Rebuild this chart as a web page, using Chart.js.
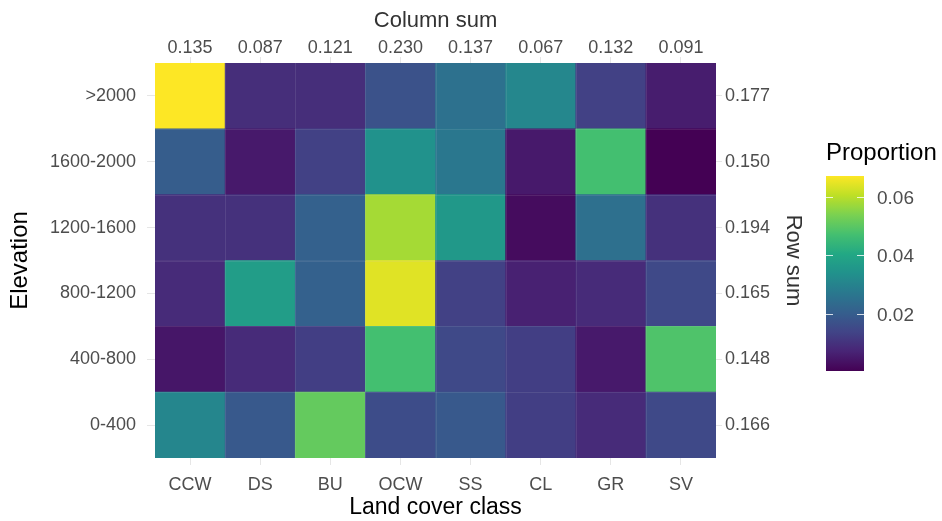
<!DOCTYPE html>
<html><head><meta charset="utf-8">
<script src="https://cdn.jsdelivr.net/npm/chart.js@4/dist/chart.umd.min.js"></script>
<style>html,body{margin:0;padding:0;background:#fff}canvas{display:block}</style>
</head><body>
<canvas id="c" width="942" height="521"></canvas>
<script>
// ---- data ----
const landCover = ['CCW','DS','BU','OCW','SS','CL','GR','SV'];
const elevation = ['0-400','400-800','800-1200','1200-1600','1600-2000','>2000']; // bottom -> top
const columnSums = ['0.135','0.087','0.121','0.230','0.137','0.067','0.132','0.091'];
const rowSums = ['0.166','0.148','0.165','0.194','0.150','0.177']; // bottom -> top
const row0_400    = [0.031, 0.019, 0.051, 0.016, 0.019, 0.0127, 0.0087, 0.0153];
const row400_800  = [0.0047, 0.0087, 0.0127, 0.047, 0.0153, 0.0127, 0.0053, 0.0485];
const row800_1200 = [0.0087, 0.0372, 0.021, 0.064, 0.0133, 0.0067, 0.0087, 0.0153];
const row1200_1600= [0.010, 0.010, 0.021, 0.058, 0.036, 0.0027, 0.025, 0.010];
const row1600_2000= [0.020, 0.0053, 0.0133, 0.034, 0.027, 0.0053, 0.047, 0.0007];
const row2000     = [0.067, 0.0093, 0.0093, 0.0173, 0.0253, 0.0312, 0.0133, 0.006];
const legendTicks = [0.02, 0.04, 0.06];

const rows = [row0_400, row400_800, row800_1200, row1200_1600, row1600_2000, row2000];
const allVals = rows.flat();
const vmin = Math.min(...allVals), vmax = Math.max(...allVals);

// viridis
const VIR = ['#440154','#482475','#414487','#355f8d','#2a788e','#21918c','#22a884','#44bf70','#7ad151','#bddf26','#fde725'];
function hex(h){return [1,3,5].map(i=>parseInt(h.substr(i,2),16));}
function viridis(t){
  t = Math.max(0, Math.min(1, t));
  const p = t*(VIR.length-1), i = Math.min(Math.floor(p), VIR.length-2), f = p-i;
  const a = hex(VIR[i]), b = hex(VIR[i+1]);
  return 'rgb(' + a.map((v,k)=>Math.round(v+(b[k]-v)*f)).join(',') + ')';
}
const colorOf = v => viridis((v-vmin)/(vmax-vmin));

const datasets = rows.map((vals, r) => ({
  label: elevation[r],
  data: landCover.map(() => [r, r+1]),
  backgroundColor: vals.map(colorOf),
  borderWidth: 0,
  grouped: false,
  barPercentage: 1,
  categoryPercentage: 1,
  xAxisID: 'x', yAxisID: 'y'
}));

const FONT = '"Liberation Sans", Arial, sans-serif';
const tickCol = '#4d4d4d';
const gridCol = '#e6e6e6';
const centerTicks = axis => { axis.ticks = elevation.map((_, i) => ({value: i + 0.5})); };

const tileLines = {
  id: 'tileLines',
  afterDatasetsDraw(chart) {
    const {ctx, chartArea: a, scales: {x, y}} = chart;
    ctx.save();
    ctx.strokeStyle = 'rgba(200,200,220,0.13)';
    ctx.lineWidth = 1;
    ctx.beginPath();
    for (let i = 1; i < landCover.length; i++) {
      const px = Math.round((x.getPixelForValue(i - 1) + x.getPixelForValue(i)) / 2) + 0.5;
      ctx.moveTo(px, a.top); ctx.lineTo(px, a.bottom);
    }
    for (let j = 1; j < elevation.length; j++) {
      const py = Math.round(y.getPixelForValue(j)) + 0.5;
      ctx.moveTo(a.left, py); ctx.lineTo(a.right, py);
    }
    ctx.stroke();
    ctx.restore();
  }
};

const colorbarPlugin = {
  id: 'colorbar',
  afterDraw(chart) {
    const ctx = chart.ctx;
    const x = 826, y = 176, w = 38, h = 195;
    ctx.save();
    const g = ctx.createLinearGradient(0, y + h, 0, y);
    for (let i = 0; i <= 50; i++) g.addColorStop(i/50, viridis(i/50));
    ctx.fillStyle = g;
    ctx.fillRect(x, y, w, h);
    ctx.font = '24px ' + FONT;
    ctx.fillStyle = '#000';
    ctx.textBaseline = 'middle';
    ctx.textAlign = 'left';
    ctx.fillText('Proportion', x, 153);
    ctx.font = '19px ' + FONT;
    ctx.fillStyle = tickCol;
    ctx.strokeStyle = 'rgba(255,255,255,0.8)';
    ctx.lineWidth = 1;
    legendTicks.forEach(v => {
      const ty = Math.round(y + h - (v - vmin)/(vmax - vmin) * h) + 0.5;
      ctx.beginPath();
      ctx.moveTo(x, ty); ctx.lineTo(x + 7, ty);
      ctx.moveTo(x + w - 7, ty); ctx.lineTo(x + w, ty);
      ctx.stroke();
      ctx.fillText(v.toFixed(2), x + w + 13, ty + 1);
    });
    ctx.restore();
  }
};

new Chart(document.getElementById('c'), {
  type: 'bar',
  data: { labels: landCover, datasets },
  options: {
    responsive: false, animation: false, devicePixelRatio: 1,
    layout: { padding: { left: 0, top: 0, bottom: 0, right: 136 } },
    plugins: { legend: { display: false }, tooltip: { enabled: false } },
    scales: {
      x: {
        type: 'category', position: 'bottom', offset: true,
        grid: { drawOnChartArea: false, offset: false, color: gridCol, tickLength: 7 },
        border: { display: false },
        ticks: { color: tickCol, font: { family: FONT, size: 18 }, padding: 9 },
        title: { display: true, text: 'Land cover class', color: '#000', font: { family: FONT, size: 23 }, padding: { top: 0, bottom: 0 } },
        afterFit: s => { s.height = 63; }
      },
      x2: {
        type: 'category', position: 'top', labels: columnSums, offset: true,
        grid: { drawOnChartArea: false, offset: false, color: gridCol, tickLength: 6 },
        border: { display: false },
        ticks: { color: tickCol, font: { family: FONT, size: 18 }, padding: -2 },
        title: { display: true, text: 'Column sum', color: '#333', font: { family: FONT, size: 22 }, padding: { top: 8, bottom: 0 } },
        afterFit: s => { s.height = 63; }
      },
      y: {
        type: 'linear', position: 'left', min: 0, max: 6,
        afterBuildTicks: centerTicks,
        grid: { drawOnChartArea: false, color: gridCol, tickLength: 8 },
        border: { display: false },
        ticks: { color: tickCol, font: { family: FONT, size: 18 }, padding: 11, callback: v => elevation[Math.floor(v)] },
        title: { display: true, text: 'Elevation', color: '#000', font: { family: FONT, size: 24 }, padding: { top: 6, bottom: 0 } },
        afterFit: s => { s.width = 155; }
      },
      y2: {
        type: 'linear', position: 'right', min: 0, max: 6,
        afterBuildTicks: centerTicks,
        grid: { drawOnChartArea: false, color: gridCol, tickLength: 6 },
        border: { display: false },
        ticks: { color: tickCol, font: { family: FONT, size: 18 }, padding: 3, callback: v => rowSums[Math.floor(v)] },
        title: { display: true, text: 'Row sum', color: '#333', font: { family: FONT, size: 22 }, padding: { top: 0, bottom: 0 } },
        afterFit: s => { s.width = 90; }
      }
    }
  },
  plugins: [tileLines, colorbarPlugin]
});
</script>
</body></html>
